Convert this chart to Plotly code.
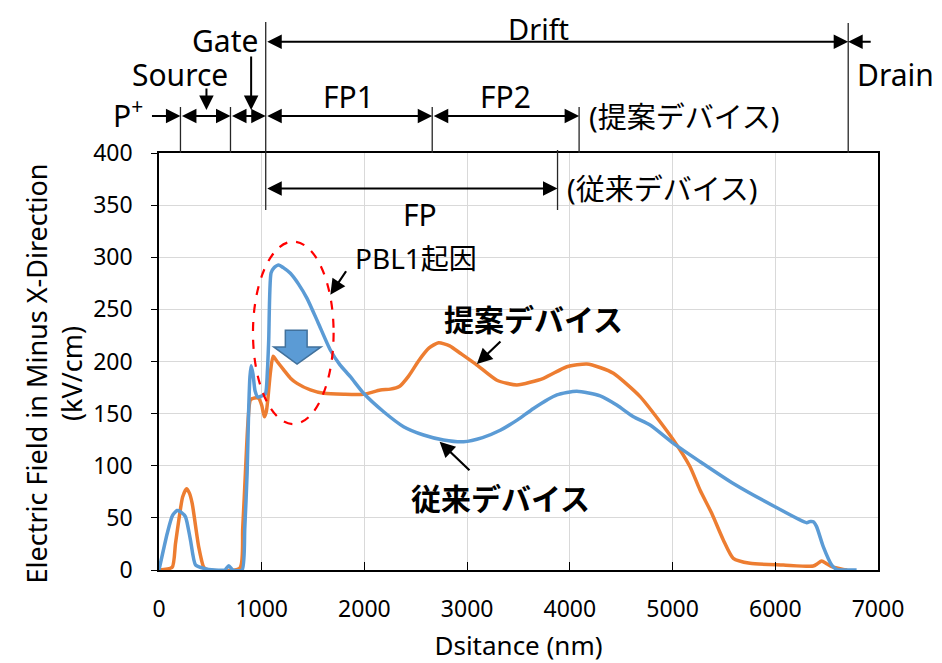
import plotly.graph_objects as go

# ---------------- data ----------------
x_prop = [0, 128, 160, 193, 230, 268, 295, 323, 387, 436, 480, 786, 815, 841, 865, 890, 930, 971, 1000,
          1026, 1045, 1059, 1085, 1111, 1150, 1214, 1280, 1344, 1474, 1603, 1800, 1992, 2155, 2252, 2340,
          2430, 2530, 2630, 2722, 2830, 2933, 3095, 3290, 3484, 3743, 3971, 4165, 4300, 4424, 4684, 5008, 5170,
          5267, 5381, 5494, 5591, 5754, 6078, 6370, 6410, 6451, 6500, 6549, 6661, 6700]
y_prop = [0, 2.6, 25, 48, 70, 78, 74, 64, 22, 2.6, 0, 1.6, 40, 92.7, 140, 163, 165, 164.7, 158,
          147, 152, 163, 190, 205, 200, 192, 184, 179, 172.7, 169.5, 168.5, 168.5, 172.7, 173.5, 176,
          186, 201, 213, 218, 215, 207.9, 196.6, 182, 177.5, 183.9, 195, 197.6, 194, 188.7, 166.3, 124.7, 99,
          76.7, 54.4, 28.8, 11.2, 6.4, 4.8, 3.8, 6, 8.6, 6, 3.2, 0.6, 0]

x_conv = [0, 80, 130, 177, 220, 258, 306, 355, 436, 540, 640, 679, 720, 809, 835, 858, 872, 885, 897,
          915, 935, 961, 1000, 1036, 1055, 1068, 1091, 1120, 1166, 1210, 1279, 1360, 1441, 1550, 1668,
          1760, 1863, 1992, 2187, 2381, 2576, 2770, 2965, 3150, 3322, 3490, 3646, 3874, 4068, 4295, 4460,
          4619, 4781, 5008, 5267, 5591, 5997, 6305, 6340, 6370, 6402, 6467, 6549, 6597, 6700, 6792]
y_conv = [0, 35, 52, 57, 55, 51, 29, 5, 1.6, 0, 0, 4, 0, 0, 40, 93, 150, 185, 196,
          188, 172, 166, 167, 169, 190, 220, 285, 290, 292.6, 290, 284.6, 274, 260.6, 237, 211,
          197, 185.4, 169.5, 151.8, 137.5, 129.5, 124.7, 123, 127, 134, 144, 155, 168, 171.5, 167, 158,
          147, 139, 121.5, 104, 83, 60.7, 45.4, 46.5, 46.3, 41.6, 22.4, 4.8, 0.6, 0, 0]

x_tickvals = [0, 1000, 2000, 3000, 4000, 5000, 6000, 7000]
y_tickvals = [0, 50, 100, 150, 200, 250, 300, 350, 400]

name_prop = "提案デバイス"
name_conv = "従来デバイス"

# region boundaries along the device (nm)
b_pplus, b_src, b_gate, b_fp1, b_fp2, b_fp, b_drift = 209, 696, 1039, 2660, 4090, 3880, 6710

# ---------------- layout constants ----------------
OFF = 8                      # page body margin of the html page
W, H = 942 - OFF, 663 - OFF
ML, MR, MT, MB = 159 - OFF, 64, 153 - OFF, 93
PW, PH = W - ML - MR, H - MT - MB
PLOT_BOTTOM = MT + PH + OFF   # screen pixel row of y = 0
XMAX, YMAX = 7000, 400
FONT = "Noto Sans, Noto Sans CJK JP, sans-serif"
BLUE, ORANGE = "#5B9BD5", "#ED7D31"


def xp(nm):
    return nm / XMAX


def yp(pix):  # screen pixel row -> paper
    return (PLOT_BOTTOM - pix) / PH


def npx(dnm):
    return dnm * PW / XMAX


fig = go.Figure()
fig.add_trace(go.Scatter(x=x_prop, y=y_prop, mode="lines", name=name_prop,
                         line=dict(color=ORANGE, width=3.5, shape="spline", smoothing=0.6)))
fig.add_trace(go.Scatter(x=x_conv, y=y_conv, mode="lines", name=name_conv,
                         line=dict(color=BLUE, width=3.5, shape="spline", smoothing=0.6)))

shapes = []
anns = []
LC = "#262626"

# vertical boundary lines in the header
for nm, top, bot in [(b_pplus, 107, 153), (b_src, 107, 153), (b_gate, 22, 210), (b_fp1, 107, 153),
                     (b_fp2, 107, 153), (b_fp, 150, 210), (b_drift, 23, 153)]:
    shapes.append(dict(type="line", xref="paper", yref="paper", x0=xp(nm), x1=xp(nm),
                       y0=yp(top), y1=yp(bot), line=dict(color=LC, width=1.3)))

ARW = dict(showarrow=True, arrowhead=2, arrowsize=1.45, arrowwidth=2, arrowcolor="black",
           startarrowhead=2, startarrowsize=1.45, text="")


def harrow(x1, x2, ypix, both=True):
    d = dict(ARW)
    d.update(x=xp(x2), y=yp(ypix), xref="paper", yref="paper", axref="pixel", ayref="pixel",
             ax=-npx(x2 - x1), ay=0, arrowside="end+start" if both else "end")
    anns.append(d)


ROW = 116
harrow(b_pplus, b_src, ROW)
harrow(b_src, b_gate, ROW)
harrow(b_gate, b_fp1, ROW)
harrow(b_fp1, b_fp2, ROW)
harrow(b_gate, b_drift, 41.7)
# P+ single arrow
d = dict(ARW); d.update(x=xp(b_pplus), y=yp(ROW), xref="paper", yref="paper", ax=-30, ay=0, arrowside="end")
anns.append(d)
# Drain single arrow (pointing left)
d = dict(ARW); d.update(x=xp(b_drift), y=yp(41.7), xref="paper", yref="paper", ax=24, ay=0, arrowside="end")
anns.append(d)
# Source and Gate down arrows
d = dict(ARW); d.update(x=xp(462), y=yp(110), xref="paper", yref="paper", ax=0, ay=-23, arrowside="end")
anns.append(d)
d = dict(ARW); d.update(x=xp(897), y=yp(110), xref="paper", yref="paper", ax=0, ay=-55, arrowside="end")
anns.append(d)

HF = dict(family=FONT, size=30, color="black")


def htext(txt, nm, ypix, xanchor="center", size=30):
    anns.append(dict(text=txt, x=xp(nm), y=yp(ypix), xref="paper", yref="paper", showarrow=False,
                     xanchor=xanchor, yanchor="middle", font=dict(family=FONT, size=size, color="black")))


htext("Drift", 3690, 28, size=29)
htext("Gate", 640, 41)
htext("Source", 209, 74)
htext("P<sup>+</sup>", -300, 114)
htext("FP1", 1843, 97)
htext("FP2", 3370, 97)
htext("Drain", 7170, 74)
htext("(" + name_prop + ")", 4170, 116, "left", 29)
htext("(" + name_conv + ")", 3955, 188, "left", 29)

# FP double arrow inside the plot
d = dict(ARW); d.update(x=b_fp, y=366, xref="x", yref="y", axref="x", ayref="y", ax=b_gate, ay=366,
                        arrowside="end+start")
anns.append(d)
anns.append(dict(text="FP", x=2540, y=341, xref="x", yref="y", showarrow=False, font=HF))

# dashed ellipse around PBL1 peak
shapes.append(dict(type="circle", xref="x", yref="y", x0=915, x1=1700, y0=140, y1=315,
                   line=dict(color="#FF0000", width=2.2, dash="dash")))

# blue block arrow pointing down
blk = [(1230, 230), (1442, 230), (1442, 214), (1578, 214), (1344, 197.6), (1117, 214), (1230, 214)]
path = "M " + " L ".join(f"{a},{b}" for a, b in blk) + " Z"
shapes.append(dict(type="path", xref="x", yref="y", path=path, fillcolor=BLUE,
                   line=dict(color="#41719C", width=1.5)))

# labels with arrows inside the plot
IA = dict(showarrow=True, arrowhead=2, arrowsize=1.4, arrowwidth=2.2, arrowcolor="black", text="")
for (tx, ty, hx, hy) in [(1831, 288, 1668, 264), (3339, 220.6, 3095, 197.6), (3037, 94.3, 2732, 123)]:
    d = dict(IA); d.update(x=hx, y=hy, ax=tx, ay=ty, xref="x", yref="y", axref="x", ayref="y")
    anns.append(d)

anns.append(dict(text="PBL1起因", x=1890, y=299, xref="x", yref="y", showarrow=False, xanchor="left",
                 font=dict(family=FONT, size=28, color="black")))
anns.append(dict(text="<b>" + name_prop + "</b>", x=3643, y=240, xref="x", yref="y", showarrow=False,
                 font=dict(family=FONT, size=30, color="black")))
anns.append(dict(text="<b>" + name_conv + "</b>", x=3322, y=69, xref="x", yref="y", showarrow=False,
                 font=dict(family=FONT, size=30, color="black")))

# y axis title (two lines)
anns.append(dict(text="Electric Field in Minus X-Direction<br>(kV/cm)", textangle=-90,
                 x=(53.5 - 159) / PW, y=yp(374), xref="paper", yref="paper", showarrow=False,
                 xanchor="center", yanchor="middle", font=dict(family=FONT, size=27, color="black")))

fig.update_layout(
    width=W, height=H, margin=dict(l=ML, r=MR, t=MT, b=MB, autoexpand=False),
    paper_bgcolor="white", plot_bgcolor="white", showlegend=False,
    font=dict(family=FONT, color="black"),
    shapes=shapes, annotations=anns,
    xaxis=dict(range=[0, XMAX], tickvals=x_tickvals, ticks="inside", ticklen=8, tickcolor="black",
               showline=True, linecolor="black", linewidth=1.5, mirror=True,
               showgrid=True, gridcolor="#D9D9D9", gridwidth=1.3, zeroline=False,
               tickfont=dict(family=FONT, size=23, color="black"), ticklabelstandoff=18,
               title=dict(text="Dsitance (nm)", font=dict(family=FONT, size=26, color="black"), standoff=14)),
    yaxis=dict(range=[0, YMAX], tickvals=y_tickvals, ticks="outside", ticklen=6, tickcolor="black",
               showline=True, linecolor="black", linewidth=1.5, mirror=True,
               showgrid=True, gridcolor="#D9D9D9", gridwidth=1.3, zeroline=False,
               tickfont=dict(family=FONT, size=23, color="black"), ticklabelstandoff=14),
)

fig.write_html("out.html")
